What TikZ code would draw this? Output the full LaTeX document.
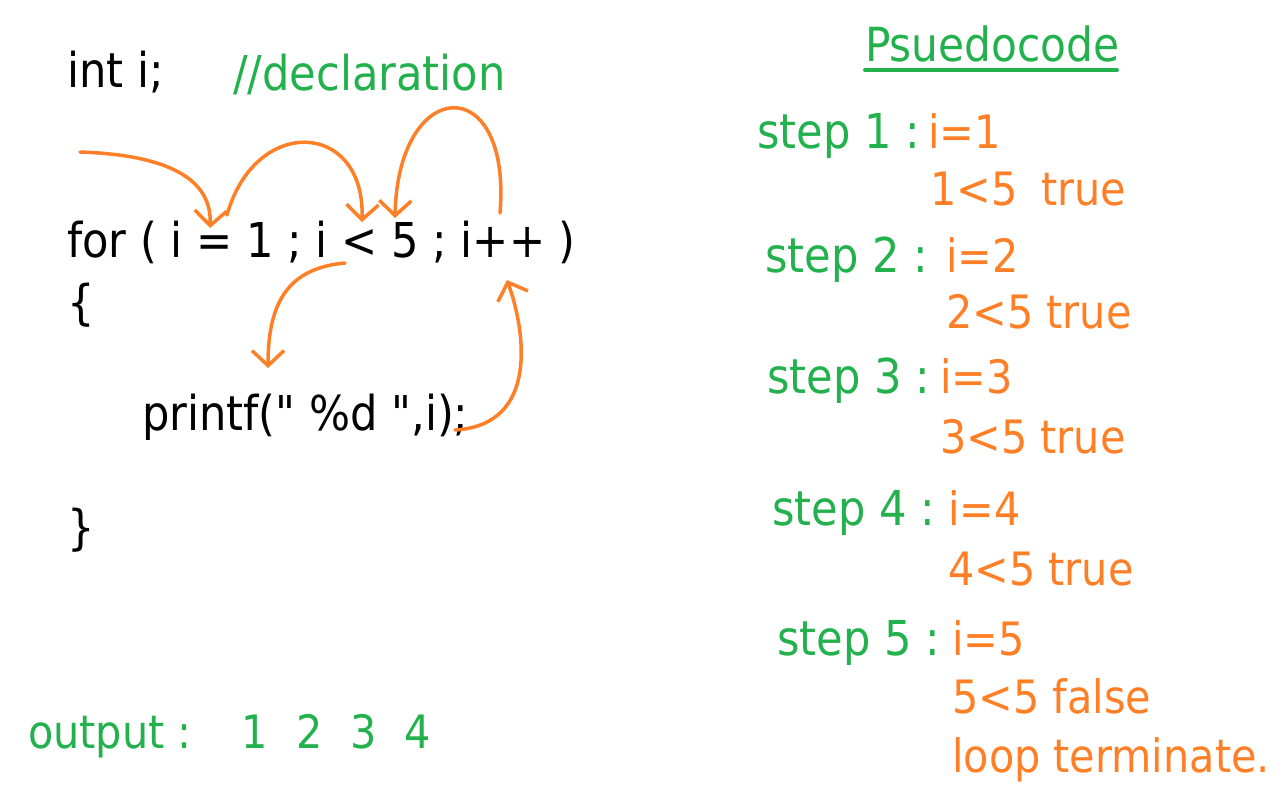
\documentclass[tikz,border=0pt]{standalone}
\usepackage{fontspec}
\setmainfont{DejaVu Sans Condensed}
\newfontfamily\codefont{DejaVu Sans Condensed}
\usetikzlibrary{arrows.meta}
\definecolor{paintgreen}{RGB}{34,177,76}
\definecolor{paintorange}{RGB}{255,127,39}

\begin{document}
\begin{tikzpicture}[x=1pt,y=-1pt,
    every node/.style={anchor=base west,inner sep=0pt,font=\fontsize{48}{58}\selectfont},
    code/.style={text=black,font=\codefont\fontsize{48}{58}\selectfont},
    note/.style={text=paintgreen},
    val/.style={text=paintorange,font=\fontsize{46}{56}\selectfont},
    flow/.style={draw=paintorange,line width=3.5pt,line cap=round,line join=round,
        -{Straight Barb[length=15pt,width=32pt]}}]
    \useasboundingbox (0,0) rectangle (1279,792);

    % the loop in C
    \node[code] (decl)  at (67,87)   {int i;};
    \node[note] (cmt)   at (233,90)  {//declaration};
    \node[code] (loop)  at (67,257)  {for ( i = 1 ; i < 5 ; i++ )};
    \node[code] (open)  at (67,319)  {\{};
    \node[code] (body)  at (142,430) {printf(" \%d ",i);};
    \node[code] (close) at (67,544)  {\}};
    \node[note,font=\fontsize{46}{54}\selectfont] (out) at (28,748)
        {output :\hspace{50pt}1\hspace{28pt}2\hspace{28pt}3\hspace{28pt}4};

    % pseudocode
    \node[note,font=\fontsize{47}{56}\selectfont] (title) at (865,62) {Psuedocode};
    \draw[paintgreen,line width=4pt,line cap=round] (865,70) -- (1117,70);

    \node[note] (s1) at (757,148) {step 1 :};
    \node[val]  (v1) at (928,148) {i=1};
    \node[val]  (c1) at (930,205) {1<5\hspace{24pt}true};
    \node[note] (s2) at (765,272) {step 2 :};
    \node[val]  (v2) at (946,272) {i=2};
    \node[val]  (c2) at (946,328) {2<5 true};
    \node[note] (s3) at (767,393) {step 3 :};
    \node[val]  (v3) at (940,393) {i=3};
    \node[val]  (c3) at (940,453) {3<5 true};
    \node[note] (s4) at (772,525) {step 4 :};
    \node[val]  (v4) at (948,525) {i=4};
    \node[val]  (c4) at (948,585) {4<5 true};
    \node[note] (s5) at (777,655) {step 5 :};
    \node[val]  (v5) at (952,655) {i=5};
    \node[val]  (c5) at (952,713) {5<5 false};
    \node[val]  (end) at (952,772) {loop terminate.};

    % hand drawn flow of the loop
    \coordinate (initin)  at (80,152);
    \coordinate (init)    at (210,228);
    \coordinate (initout) at (227,215);
    \coordinate (test)    at (362,222);
    \coordinate (testout) at (345,263);
    \coordinate (bodyin)  at (268,368);
    \coordinate (bodyout) at (455,430);
    \coordinate (incr)    at (507,280);
    \coordinate (incrout) at (500,213);
    \coordinate (testin)  at (395,218);

    \draw[flow] (initin) .. controls (170,155) and (212,180) .. (init);
    \draw[flow] (initout) .. controls (255,115) and (365,120) .. (test);
    \draw[flow] (testout) .. controls (290,268) and (268,300) .. (bodyin);
    \draw[flow] (bodyout) .. controls (540,425) and (525,330) .. (incr);
    \draw[flow] (incrout) .. controls (512,70) and (398,75) .. (testin);
\end{tikzpicture}
\end{document}
